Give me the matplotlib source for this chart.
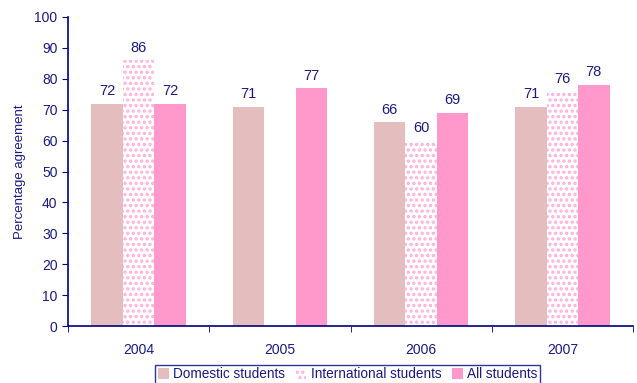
import numpy as np
import matplotlib
matplotlib.use('Agg')
import matplotlib.pyplot as plt

years = ['2004', '2005', '2006', '2007']
domestic = [72, 71, 66, 71]
international = [86, np.nan, 60, 76]
all_students = [72, 77, 69, 78]

navy = '#000080'
text_col = '#1a1a80'

plt.rcParams['font.family'] = ['Liberation Sans', 'DejaVu Sans']
plt.rcParams['hatch.linewidth'] = 1.6

fig = plt.figure(figsize=(6.37, 3.83), dpi=100)
ax = fig.add_axes([68 / 637, 1 - 326 / 383, 565 / 637, 309 / 383])

x = np.arange(len(years))
w = 0.223
series = [
    ('Domestic students', domestic, dict(color='#e4bebe')),
    ('International students', international,
     dict(facecolor='white', edgecolor='#ffb0d8', hatch='...', linewidth=0)),
    ('All students', all_students, dict(color='#ff99cc')),
]

handles = []
for i, (name, vals, style) in enumerate(series):
    vals = np.array(vals, dtype=float)
    bars = ax.bar(x + (i - 1) * w, vals, w, label=name, zorder=2, **style)
    handles.append(bars)
    for xi, v in zip(x + (i - 1) * w, vals):
        if not np.isnan(v):
            ax.annotate(f'{v:.0f}', (xi, v), xytext=(0, 4),
                        textcoords='offset points', ha='center', va='bottom',
                        fontsize=10.5, color=text_col)

ax.set_xlim(-0.5, len(years) - 0.5)
ax.set_ylim(0, 100)
ax.set_yticks(range(0, 101, 10))
ax.set_xticks(x)
ax.set_xticklabels(years)
ax.set_xticks(np.arange(-0.5, len(years)), minor=True)
ax.tick_params(axis='x', which='major', length=0, pad=12, colors=text_col,
               labelsize=10)
ax.tick_params(axis='x', which='minor', length=4, color=navy)
ax.tick_params(axis='y', length=4, color=navy, colors=text_col, labelsize=10)
ax.spines['top'].set_visible(False)
ax.spines['right'].set_visible(False)
for s in ('left', 'bottom'):
    ax.spines[s].set_color(navy)
    ax.spines[s].set_linewidth(1.2)
ax.set_ylabel('Percentage agreement', color=text_col, fontsize=9.5, labelpad=6)

leg = fig.legend(handles=handles, loc='lower left',
                 bbox_to_anchor=(155 / 637, -1 / 383), ncol=3,
                 frameon=True, fancybox=False, fontsize=9.8,
                 handlelength=0.8, handleheight=0.8, handletextpad=0.3,
                 columnspacing=0.8, borderpad=0.2, borderaxespad=0)
leg.get_frame().set_edgecolor(navy)
leg.get_frame().set_linewidth(1.0)
for t in leg.get_texts():
    t.set_color(text_col)

fig.savefig('out.png', dpi=100)
